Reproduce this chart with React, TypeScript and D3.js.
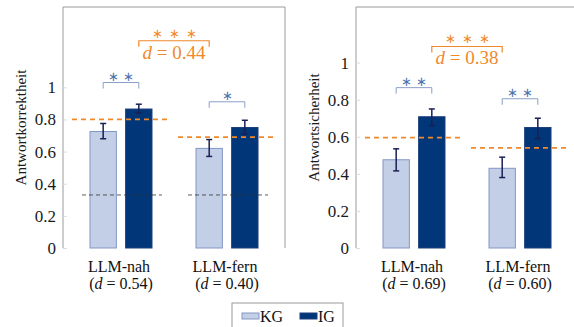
import { useRef, useEffect } from 'react';
import * as d3 from 'd3';

// data
const categories = ['LLM-nah', 'LLM-fern'];
const groups = ['KG', 'IG'];

const accKG = [0.725, 0.62];
const accIG = [0.865, 0.75];
const accKGLow = [0.68, 0.57];
const accKGHigh = [0.775, 0.675];
const accIGLow = [0.84, 0.71];
const accIGHigh = [0.895, 0.795];
const accGroupMean = [0.8, 0.69];
const accChance = [0.33, 0.33];
const accEffects = ['0.54', '0.40'];
const accStars = ['∗∗', '∗'];
const accOverallD = '0.44';

const confKG = [0.476, 0.43];
const confIG = [0.708, 0.65];
const confKGLow = [0.416, 0.38];
const confKGHigh = [0.535, 0.49];
const confIGLow = [0.66, 0.59];
const confIGHigh = [0.75, 0.7];
const confGroupMean = [0.595, 0.54];
const confEffects = ['0.69', '0.60'];
const confStars = ['∗∗', '∗∗'];
const confOverallD = '0.38';

const yTicks = [0, 0.2, 0.4, 0.6, 0.8, 1];

const LIGHT = '#c2cfe7';
const LIGHT_EDGE = '#8397c4';
const DARK = '#013679';
const DARK_EDGE = '#1d3f7c';
const ORANGE = '#f0892c';
const BLUE = '#4d73ad';
const FONT = 'Liberation Serif';

function drawPanel(svg, opts) {
  const { left, top, width, height, yMax, label, kg, ig, kgLow, kgHigh, igLow, igHigh,
    means, chance, effects, stars, starY, overallY, overallD, labelX } = opts;

  const g = svg.append('g');
  const y = d3.scaleLinear().domain([0, yMax]).range([top + height, top]);
  const x = d3
    .scaleBand()
    .domain(categories)
    .range([left, left + width])
    .paddingInner(0)
    .paddingOuter(0.047);
  const xSub = d3.scaleBand().domain(groups).range([-31, 31]).paddingInner(0.26);
  const cx = (c) => x(c) + x.bandwidth() / 2;

  // frame (top, left, right)
  g.append('path')
    .attr('d', `M${left},${top + height}V${top}H${left + width}V${top + height}`)
    .attr('fill', 'none')
    .attr('stroke', '#9a9a9a')
    .attr('stroke-width', 1);

  // y ticks
  const yAxis = g
    .append('g')
    .attr('transform', `translate(${left},0)`)
    .call(
      d3
        .axisLeft(y)
        .tickValues(yTicks)
        .tickSize(-4)
        .tickPadding(7)
        .tickFormat((d) => (d === 0 || d === 1 ? String(d) : d3.format('.1f')(d)))
    );
  yAxis.select('.domain').remove();
  yAxis.selectAll('line').attr('stroke', '#dddddd');
  yAxis.selectAll('text').attr('fill', '#1a1a1a').style('font-size', '17px');

  // y label
  g.append('text')
    .attr('transform', `translate(${labelX},${top + height / 2}) rotate(-90)`)
    .attr('text-anchor', 'middle')
    .attr('dy', '0.35em')
    .attr('fill', '#1a1a1a')
    .style('font-size', '15px')
    .text(label);

  const rows = categories.map((c, i) => ({ c, i }));

  // bars
  const bar = (key, vals, fill, edge) =>
    g
      .selectAll(`.bar-${key}`)
      .data(rows)
      .join('rect')
      .attr('x', (d) => cx(d.c) + xSub(key))
      .attr('y', (d) => y(vals[d.i]))
      .attr('width', xSub.bandwidth())
      .attr('height', (d) => y(0) - y(vals[d.i]))
      .attr('fill', fill)
      .attr('stroke', edge)
      .attr('stroke-width', 1);
  bar('KG', kg, LIGHT, LIGHT_EDGE);
  bar('IG', ig, DARK, DARK_EDGE);

  // error bars
  const err = (key, lo, hi) => {
    const eg = g.selectAll(`.err-${key}`).data(rows).join('g');
    const ex = (d) => cx(d.c) + xSub(key) + xSub.bandwidth() / 2;
    eg.append('line')
      .attr('x1', ex).attr('x2', ex)
      .attr('y1', (d) => y(lo[d.i])).attr('y2', (d) => y(hi[d.i]))
      .attr('stroke', '#1b1f55').attr('stroke-width', 1.5);
    [lo, hi].forEach((arr) =>
      eg.append('line')
        .attr('x1', (d) => ex(d) - 3).attr('x2', (d) => ex(d) + 3)
        .attr('y1', (d) => y(arr[d.i])).attr('y2', (d) => y(arr[d.i]))
        .attr('stroke', '#1b1f55').attr('stroke-width', 1.5)
    );
  };
  err('KG', kgLow, kgHigh);
  err('IG', igLow, igHigh);

  // group mean (orange dashed)
  g.selectAll('.mean')
    .data(rows)
    .join('line')
    .attr('x1', (d) => x(d.c) + 4)
    .attr('x2', (d) => x(d.c) + x.bandwidth() - 3)
    .attr('y1', (d) => y(means[d.i]))
    .attr('y2', (d) => y(means[d.i]))
    .attr('stroke', ORANGE)
    .attr('stroke-width', 1.8)
    .attr('stroke-dasharray', '5,4');

  // chance level (black dashed)
  if (chance) {
    g.selectAll('.chance')
      .data(rows)
      .join('line')
      .attr('x1', (d) => x(d.c) + 14)
      .attr('x2', (d) => x(d.c) + x.bandwidth() - 12)
      .attr('y1', (d) => y(chance[d.i]))
      .attr('y2', (d) => y(chance[d.i]))
      .attr('stroke', '#333')
      .attr('stroke-width', 0.8)
      .attr('stroke-dasharray', '4,3');
  }

  // within-group brackets
  rows.forEach((d) => {
    const x1 = cx(d.c) + xSub('KG') + xSub.bandwidth() / 2;
    const x2 = cx(d.c) + xSub('IG') + xSub.bandwidth() / 2;
    const by = y(starY[d.i]);
    g.append('path')
      .attr('d', `M${x1},${by + 6}V${by}H${x2}V${by + 6}`)
      .attr('fill', 'none')
      .attr('stroke', '#8a9fc8')
      .attr('stroke-width', 1);
    g.append('text')
      .attr('x', (x1 + x2) / 2 + 2)
      .attr('y', by - 2)
      .attr('text-anchor', 'middle')
      .attr('fill', BLUE)
      .attr('letter-spacing', '4px')
      .style('font-size', '13px')
      .text(stars[d.i]);
  });

  // across-group bracket
  const ox1 = cx(categories[0]) + xSub('IG') + xSub.bandwidth() / 2;
  const ox2 = cx(categories[1]) + xSub('KG') + xSub.bandwidth() / 2;
  const oy = y(overallY);
  g.append('path')
    .attr('d', `M${ox1},${oy + 6}V${oy}H${ox2}V${oy + 6}`)
    .attr('fill', 'none')
    .attr('stroke', ORANGE)
    .attr('stroke-width', 1.2);
  g.append('text')
    .attr('x', (ox1 + ox2) / 2 + 3)
    .attr('y', oy - 3)
    .attr('text-anchor', 'middle')
    .attr('fill', ORANGE)
    .attr('letter-spacing', '6px')
    .style('font-size', '13px')
    .text('∗∗∗');
  const dt = g
    .append('text')
    .attr('x', (ox1 + ox2) / 2)
    .attr('y', oy + 18)
    .attr('text-anchor', 'middle')
    .attr('fill', ORANGE)
    .style('font-size', '19px');
  dt.append('tspan').attr('font-style', 'italic').text('d');
  dt.append('tspan').text(` = ${overallD}`);

  // category labels
  rows.forEach((d) => {
    g.append('text')
      .attr('x', cx(d.c) - 2)
      .attr('y', top + height + 24)
      .attr('text-anchor', 'middle')
      .attr('fill', '#111')
      .style('font-size', '16px')
      .text(d.c);
    const t = g
      .append('text')
      .attr('x', cx(d.c))
      .attr('y', top + height + 41)
      .attr('text-anchor', 'middle')
      .attr('fill', '#111')
      .style('font-size', '16px');
    t.append('tspan').text('(');
    t.append('tspan').attr('font-style', 'italic').text('d');
    t.append('tspan').text(` = ${effects[d.i]})`);
  });
}

function App() {
  const svgRef = useRef(null);
  const width = 574;
  const height = 327;

  useEffect(() => {
    const svg = d3.select(svgRef.current);
    svg.selectAll('*').remove();

    svg.append('rect').attr('width', width).attr('height', height).attr('fill', '#fff');

    drawPanel(svg, {
      left: 63, top: 7, width: 222, height: 241, yMax: 1.5,
      label: 'Antwortkorrektheit', labelX: 21,
      kg: accKG, ig: accIG, kgLow: accKGLow, kgHigh: accKGHigh, igLow: accIGLow, igHigh: accIGHigh,
      means: accGroupMean, chance: accChance, effects: accEffects, stars: accStars,
      starY: [1.03, 0.91], overallY: 1.29, overallD: accOverallD,
    });

    drawPanel(svg, {
      left: 356, top: 7, width: 222, height: 241, yMax: 1.3,
      label: 'Antwortsicherheit', labelX: 314,
      kg: confKG, ig: confIG, kgLow: confKGLow, kgHigh: confKGHigh, igLow: confIGLow, igHigh: confIGHigh,
      means: confGroupMean, chance: null, effects: confEffects, stars: confStars,
      starY: [0.865, 0.805], overallY: 1.087, overallD: confOverallD,
    });

    // legend
    const legend = svg.append('g').attr('transform', 'translate(232,303)');
    legend.append('rect')
      .attr('width', 111).attr('height', 30)
      .attr('fill', '#fff').attr('stroke', '#9a9a9a');
    const items = legend
      .selectAll('.item')
      .data(groups)
      .join('g')
      .attr('transform', (_, i) => `translate(${10 + i * 58},10)`);
    items.append('rect')
      .attr('width', 17).attr('height', 6)
      .attr('fill', (d) => (d === 'KG' ? LIGHT : DARK))
      .attr('stroke', (d) => (d === 'KG' ? LIGHT_EDGE : DARK_EDGE));
    items.append('text')
      .attr('x', 18).attr('y', 9)
      .attr('fill', '#111')
      .style('font-size', '16px')
      .text((d) => d);

    // serif everywhere (axis groups default to sans-serif)
    svg.selectAll('g').attr('font-family', null);
    svg.selectAll('text').style('font-family', FONT);
  }, []);

  return (
    <svg
      ref={svgRef}
      width={width}
      height={height}
      style={{ position: 'absolute', left: 0, top: 0, display: 'block' }}
    ></svg>
  );
}

export default App;
